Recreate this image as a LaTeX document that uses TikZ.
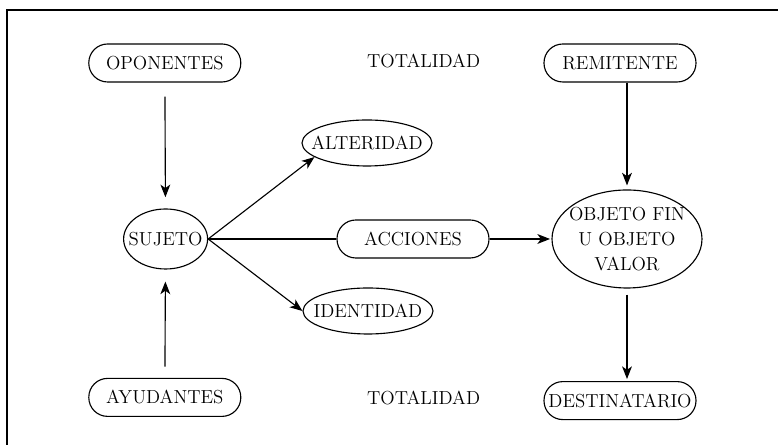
\documentclass[tikz,border=0pt]{standalone}
\usepackage{fontspec}
\usepackage{tikz}
\usetikzlibrary{shapes.geometric, arrows.meta, positioning}
\tikzstyle{pill} = [rectangle, rounded corners=0.47cm, minimum width=3.8cm, minimum height=0.95cm, inner sep=0pt, draw=black]
\tikzstyle{oval} = [ellipse, inner sep=0pt, draw=black]
\tikzstyle{arrow} = [-{Stealth[length=9pt,width=7pt,inset=2.5pt]}]

\begin{document}
\begin{tikzpicture}[font=\fontsize{13.4pt}{17.7pt}\selectfont, line width=0.8pt]
\useasboundingbox (0,0) rectangle (19.45,11.125);

% Frame
\draw (0.175,-1) |- (20.5,10.875);

% Nodes
\node (opon) [pill] at (4.12,9.55) {OPONENTES};
\node (tot1) at (10.59,9.6) {TOTALIDAD};
\node (remit) [pill] at (15.5,9.55) {REMITENTE};
\node (alter) [oval, minimum width=3.25cm, minimum height=1.15cm] at (9.175,7.55) {\makebox[0pt]{ALTERIDAD}};
\node (suj) [oval, minimum width=2.1cm, minimum height=1.5cm] at (4.14,5.15) {\makebox[0pt]{SUJETO}};
\node (acc) [pill] at (10.325,5.15) {ACCIONES};
\node (obj) [oval, inner xsep=-0.14cm, minimum width=3.75cm, minimum height=2.45cm, align=center] at (15.675,5.15) {OBJETO FIN\\U OBJETO\\VALOR};
\node (ident) [oval, minimum width=3.25cm, minimum height=1.15cm] at (9.2,3.35) {\makebox[0pt]{IDENTIDAD}};
\node (ayud) [pill] at (4.12,1.19) {AYUDANTES};
\node (tot2) at (10.59,1.175) {TOTALIDAD};
\node (dest) [pill] at (15.5,1.11) {DESTINATARIO};

% Arrows
\draw [arrow, shorten <=0.35cm, shorten >=0.28cm] (opon) -- (suj);
\draw [arrow, shorten <=0.28cm, shorten >=0.3cm] (ayud) -- (suj);
\draw [arrow] (suj.east) -- (alter.195);
\draw [arrow] (suj.east) -- (ident.west);
\draw (suj.east) -- (acc.west);
\draw [arrow, shorten >=1pt] (acc) -- (obj);
\draw [arrow, shorten >=0.1cm] (remit.south -| obj) -- (obj);
\draw [arrow, shorten <=0.15cm, shorten >=0.05cm] (obj) -- (dest.north -| obj);

\end{tikzpicture}
\end{document}
